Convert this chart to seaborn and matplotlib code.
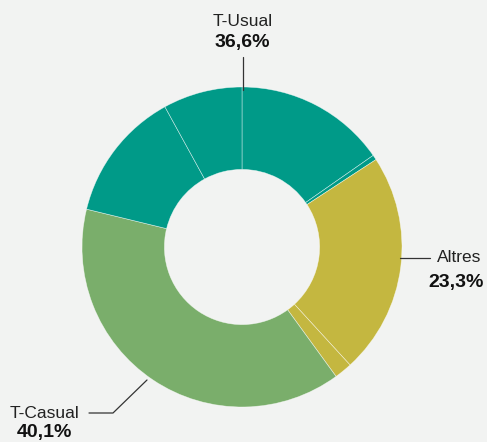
import matplotlib
matplotlib.use('Agg')
import matplotlib.pyplot as plt
import seaborn as sns

# Dades (llegides del gràfic)
slice_group = ['T-Usual', 'T-Usual', 'Altres', 'Altres', 'T-Casual', 'T-Usual', 'T-Usual']
slice_share = [15.3, 0.5, 22.4, 1.8, 38.8, 13.2, 8.0]
group_names = ['T-Usual', 'Altres', 'T-Casual']
group_pct = ['36,6%', '23,3%', '40,1%']
group_colors = ['#009a88', '#c4b740', '#7aae6b']

bg = '#f2f3f2'
sns.set_style('white')
plt.rcParams['font.family'] = ['Liberation Sans', 'DejaVu Sans']

color_of = dict(zip(group_names, group_colors))
colors = [color_of[g] for g in slice_group]

fig = plt.figure(figsize=(4.87, 4.42), dpi=100, facecolor=bg)
ax = fig.add_axes([0, 0, 1, 1])
ax.set_facecolor(bg)

H = 442
cx, cy, r = 242, H - 247, 160
ax.pie(slice_share, colors=colors, startangle=90, counterclock=False,
       center=(cx, cy), radius=r,
       wedgeprops=dict(width=r * 0.515, edgecolor=(1, 1, 1, 0.6), linewidth=0.45))
ax.set_xlim(0, 487)
ax.set_ylim(0, H)
ax.set_aspect('equal')
ax.axis('off')

lc = '#333333'
# T-Usual
ax.plot([243, 243], [H - 57, H - 90], color=lc, lw=0.9)
ax.text(243, H - 21, group_names[0], ha='center', va='center', fontsize=12.5, color='#222222')
ax.text(242, H - 43, group_pct[0], ha='center', va='center', fontsize=14, fontweight='bold', color='#111111')
# Altres
ax.plot([400, 430], [H - 258, H - 258], color=lc, lw=0.9)
ax.text(459, H - 258, group_names[1], ha='center', va='center', fontsize=12.5, color='#222222')
ax.text(456, H - 282, group_pct[1], ha='center', va='center', fontsize=14, fontweight='bold', color='#111111')
# T-Casual
ax.plot([89, 113, 147], [H - 413, H - 413, H - 380], color=lc, lw=0.9)
ax.text(44, H - 413, group_names[2], ha='center', va='center', fontsize=12.5, color='#222222')
ax.text(44, H - 433, group_pct[2], ha='center', va='center', fontsize=14, fontweight='bold', color='#111111')

plt.savefig('out.png', dpi=100, facecolor=bg)
